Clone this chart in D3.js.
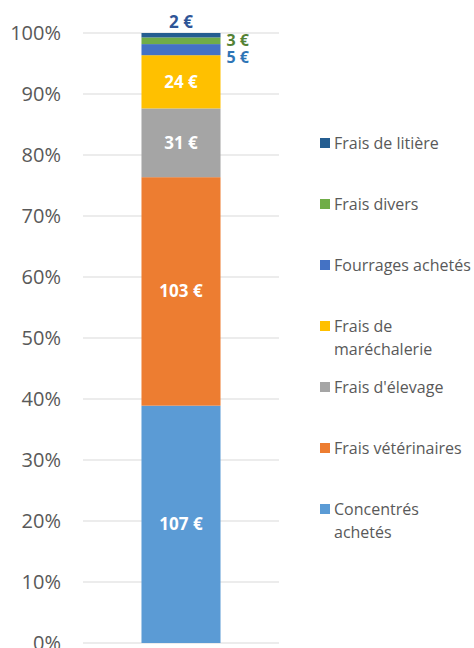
<!DOCTYPE html>
<html>
<head>
<meta charset="utf-8">
<script src="https://cdn.jsdelivr.net/npm/d3@7"></script>
<style>
  body { margin: 0; background: #fff; }
  text { font-family: "Open Sans", "Liberation Sans", sans-serif; }
</style>
</head>
<body>
<div id="chart"></div>
<script>
// Stacked 100% column: cost breakdown
var categories = ["Concentrés achetés", "Frais vétérinaires", "Frais d'élevage", "Frais de maréchalerie",
                  "Fourrages achetés", "Frais divers", "Frais de litière"];
var values = [107, 103, 31, 24, 5, 3, 2];
var colours = ["#5B9BD5", "#ED7D31", "#A5A5A5", "#FFC000", "#4472C4", "#70AD47", "#255E91"];
var legendLines = [["Concentrés", "achetés"], ["Frais vétérinaires"], ["Frais d'élevage"], ["Frais de", "maréchalerie"],
                   ["Fourrages achetés"], ["Frais divers"], ["Frais de litière"]];
var yTicks = [0, 0.1, 0.2, 0.3, 0.4, 0.5, 0.6, 0.7, 0.8, 0.9, 1];

var width = 474, height = 648;
var margin = { top: 33, left: 83, bottom: 5 };
var plotRight = 279;

var svg = d3.select("#chart").append("svg")
    .attr("width", width)
    .attr("height", height);

var total = d3.sum(values);
var stack = [], acc = 0;
values.forEach(function (v, i) {
    stack.push({ name: categories[i], value: v, y0: acc / total, y1: (acc + v) / total, colour: colours[i], i: i });
    acc += v;
});

var y = d3.scaleLinear().domain([0, 1]).range([height - margin.bottom, margin.top]);
var x = d3.scaleBand().domain(["all"]).range([margin.left, plotRight]).paddingInner(0).paddingOuter(0.74);

// Grid lines
svg.append("g").selectAll("line")
    .data(yTicks)
    .enter().append("line")
    .attr("x1", margin.left).attr("x2", plotRight)
    .attr("y1", function (d) { return y(d); }).attr("y2", function (d) { return y(d); })
    .attr("stroke", "#d9d9d9").attr("stroke-width", 1);

// Y axis labels
var axisY = d3.axisLeft(y).tickValues(yTicks).tickFormat(d3.format(".0%")).tickSize(0).tickPadding(22);
var gy = svg.append("g").attr("transform", "translate(" + margin.left + ",0)").call(axisY);
gy.select(".domain").remove();
gy.selectAll("text").attr("fill", "#595959").style("font-size", "20px").style("font-family", "'Open Sans', sans-serif");

// Bars
svg.append("g").selectAll("rect")
    .data(stack)
    .enter().append("rect")
    .attr("x", x("all"))
    .attr("width", x.bandwidth())
    .attr("y", function (d) { return y(d.y1); })
    .attr("height", function (d) { return y(d.y0) - y(d.y1); })
    .attr("fill", function (d) { return d.colour; });

// Data labels (small segments get their label outside the bar)
var cx = x("all") + x.bandwidth() / 2;
svg.append("g").selectAll("text")
    .data(stack)
    .enter().append("text")
    .attr("x", function (d) {
        if (d.i === 4 || d.i === 5) return x("all") + x.bandwidth() + 6;
        return cx;
    })
    .attr("y", function (d) {
        if (d.i === 6) return y(d.y1) - 11;
        if (d.i === 5) return y(d.y1) + 3;
        if (d.i === 4) return y(d.y1) + 13;
        return y((d.y0 + d.y1) / 2);
    })
    .attr("dy", "0.35em")
    .attr("text-anchor", function (d) { return (d.i === 4 || d.i === 5) ? "start" : "middle"; })
    .attr("fill", function (d) {
        if (d.i === 6) return "#2F5597";
        if (d.i === 5) return "#548235";
        if (d.i === 4) return "#2E75B6";
        return "#fff";
    })
    .style("font-size", function (d) { return (d.i === 4 || d.i === 5) ? "16px" : "17px"; })
    .style("font-weight", "bold")
    .text(function (d) { return d.value + " €"; });

// Legend
var legendTop = 143, legendStep = 61;
var legend = svg.append("g").attr("class", "legend");
stack.slice().reverse().forEach(function (d, k) {
    var ly = legendTop + k * legendStep;
    var item = legend.append("g");
    item.append("rect")
        .attr("x", 320).attr("y", ly - 5)
        .attr("width", 10).attr("height", 10)
        .attr("fill", d.colour);
    var lines = legendLines[d.i];
    lines.forEach(function (t, j) {
        item.append("text")
            .attr("x", 334).attr("y", ly + j * 23)
            .attr("dy", "0.35em")
            .attr("fill", "#595959")
            .style("font-size", "16px")
            .text(t);
    });
});
</script>
</body>
</html>
